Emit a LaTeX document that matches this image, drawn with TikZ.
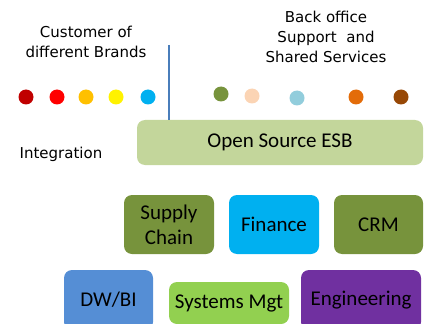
\documentclass[tikz,border=0pt]{standalone}
\usepackage{fontspec}
\setmainfont{Carlito}
\newfontfamily\labelfont{DejaVu Sans}
\definecolor{esbgreen}{HTML}{C3D69B}
\definecolor{olive}{HTML}{77933C}
\definecolor{cyanblue}{HTML}{00B0F0}
\definecolor{dwblue}{HTML}{558ED5}
\definecolor{sysgreen}{HTML}{92D050}
\definecolor{engpurple}{HTML}{7030A0}
\definecolor{splitblue}{HTML}{4A7EBB}
\definecolor{darkred}{HTML}{C00000}
\definecolor{gold}{HTML}{FFC000}
\definecolor{peach}{HTML}{FBD4B4}
\definecolor{paleblue}{HTML}{92CDDC}
\definecolor{darkorange}{HTML}{E36C09}
\definecolor{rust}{HTML}{974806}

\begin{document}
\begin{tikzpicture}[x = 1pt,
y = -1pt,
box/.style = {rounded corners=8pt, inner sep=0pt, align=center, font=\fontsize{21}{25}\selectfont},
lbl/.style = {align=center, font=\labelfont\fontsize{15}{20}\selectfont}]
\useasboundingbox (0,0) rectangle (427,323);
\clip (0,0) rectangle (427,323);

\node[lbl] (customers) at (86,42) {Customer of\\different Brands};
\node[lbl] (backoffice) at (326,37) {Back office\\Support~~and\\Shared Services};
\node[lbl] (integration) at (61,154) {Integration};

\fill[darkred] (26,97) circle (7.5);
\fill[red] (57,97) circle (7.5);
\fill[gold] (86,97) circle (7.5);
\fill[yellow] (116,97) circle (7.5);
\fill[cyanblue] (148,97) circle (7.5);

\fill[olive] (221,94) circle (7.5);
\fill[peach] (252,96) circle (7.5);
\fill[paleblue] (297,98) circle (7.5);
\fill[darkorange] (356,97) circle (7.5);
\fill[rust] (401,97) circle (7.5);

\node[box, fill=esbgreen, minimum width=286pt, minimum height=45pt] (esb) at (280,142.5) {Open Source ESB};

\draw[splitblue, line width=2.5pt] (169,45) -- (169,120);

\node[box, fill=olive, minimum width=90pt, minimum height=59pt] (supply) at (169,224.5) {Supply\\Chain};
\node[box, fill=cyanblue, minimum width=90pt, minimum height=59pt] (finance) at (274,224.5) {Finance};
\node[box, fill=olive, minimum width=89pt, minimum height=59pt] (crm) at (378.5,224.5) {CRM};

\node[box, fill=dwblue, minimum width=89pt, minimum height=60pt] (dwbi) at (108.5,300) {DW/BI};
\node[box, fill=sysgreen, minimum width=120pt, minimum height=42pt] (sysmgt) at (229,303) {Systems Mgt};
\node[box, fill=engpurple, minimum width=120pt, minimum height=60pt] (eng) at (361,300) {Engineering};
\end{tikzpicture}
\end{document}
